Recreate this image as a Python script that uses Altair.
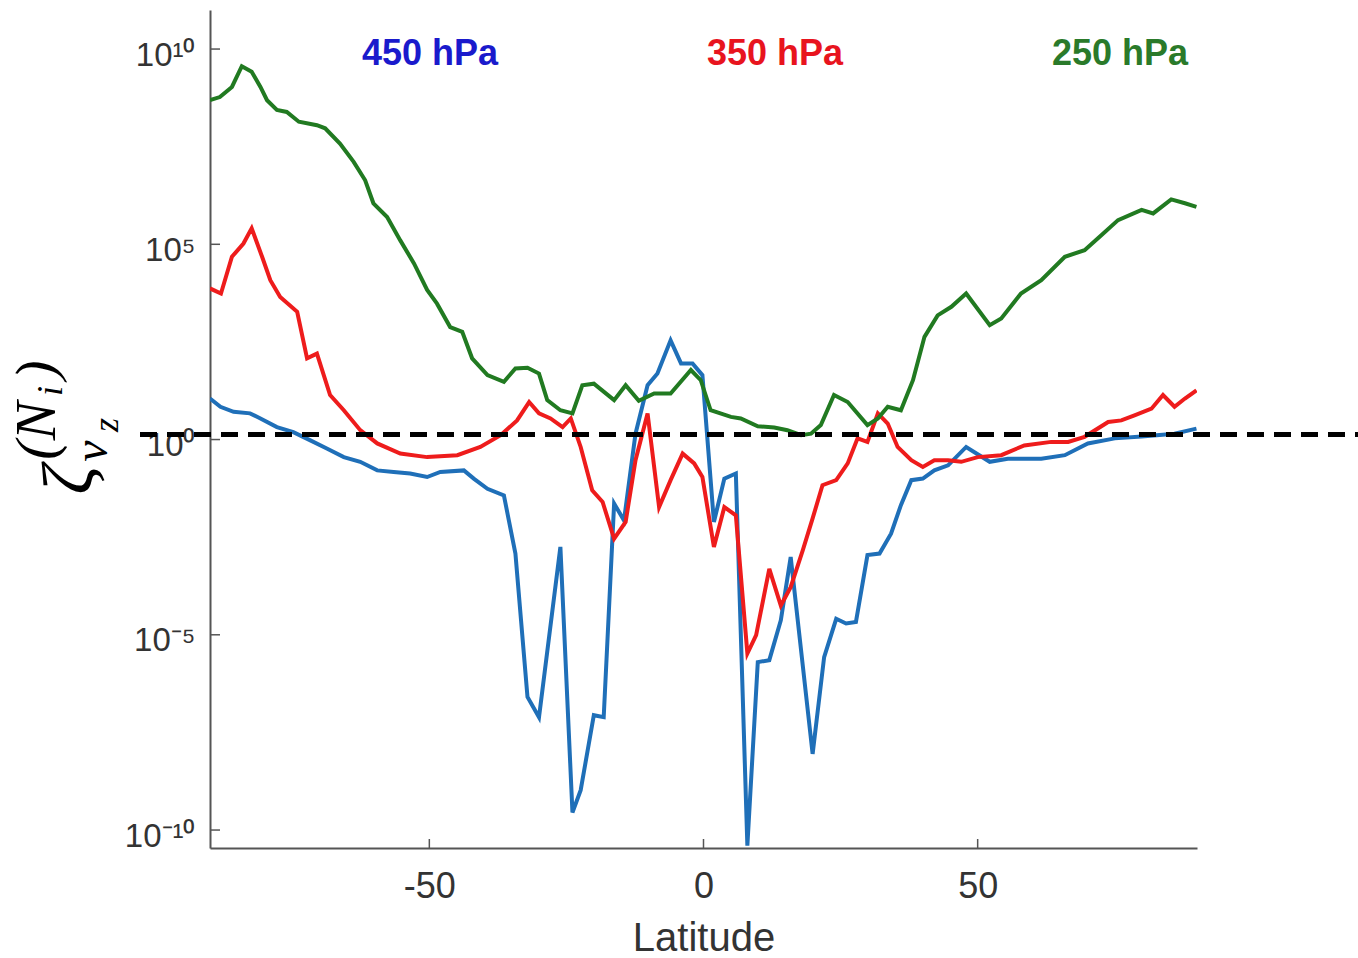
import altair as alt
import pandas as pd

# ---- data (latitude, log10 of zeta) ----
levels = ["450 hPa", "350 hPa", "250 hPa"]
line_colors = ["#1F6FB8", "#EE1C1C", "#217A21"]
label_colors = ["#1A1ACC", "#E8141E", "#2A7A2A"]

lat_450 = [-90.0, -88.1, -85.7, -82.7, -80.8, -77.8, -74.8, -71.7, -68.7, -65.6, -62.6, -59.5,
           -56.5, -53.5, -50.4, -48.0, -43.7, -41.9, -39.4, -36.4, -35.5, -34.3, -32.1, -30.0,
           -26.1, -23.9, -22.4, -20.0, -18.2, -16.3, -14.5, -12.4, -10.2, -8.4, -6.0, -4.1,
           -2.0, -0.2, 1.9, 3.8, 5.9, 8.0, 9.9, 12.0, 14.1, 15.9, 19.9, 22.0, 24.2, 26.0,
           27.8, 29.9, 32.1, 34.2, 36.0, 37.9, 40.0, 42.1, 44.6, 47.9, 52.2, 55.5, 61.6,
           65.9, 70.1, 75.0, 79.9, 85.9, 89.9]
exp_450 = [1.05, 0.84, 0.71, 0.67, 0.54, 0.32, 0.19, -0.02, -0.23, -0.45, -0.57, -0.79,
           -0.83, -0.87, -0.96, -0.83, -0.79, -1.00, -1.26, -1.43, -2.07, -2.92, -6.59, -7.11,
           -2.75, -9.55, -8.98, -7.06, -7.11, -1.64, -2.07, 0.15, 1.39, 1.69, 2.54, 1.95,
           1.95, 1.65, -2.11, -1.00, -0.87, -10.4, -5.70, -5.65, -4.63, -3.01, -8.05, -5.57, -4.59, -4.71,
           -4.67, -2.96, -2.92, -2.41, -1.68, -1.04, -1.00, -0.79, -0.66, -0.19, -0.57, -0.49, -0.49,
           -0.40, -0.10, 0.03, 0.08, 0.15, 0.28]

lat_350 = [-90.0, -88.0, -86.0, -83.9, -82.4, -80.5, -79.0, -77.2, -74.1, -72.3, -70.5, -68.1,
           -65.6, -62.6, -59.5, -55.3, -50.4, -44.9, -40.7, -37.0, -34.0, -31.8, -30.0, -27.9,
           -25.7, -24.2, -22.4, -20.3, -18.4, -16.3, -14.2, -12.4, -10.2, -8.1, -6.0, -3.8,
           -1.7, -0.2, 1.9, 3.8, 5.9, 8.0, 9.6, 12.0, 14.1, 15.9, 18.1, 19.9, 21.7, 24.2,
           26.3, 28.1, 29.9, 31.8, 33.6, 35.4, 37.9, 40.0, 42.1, 44.6, 47.0, 50.0, 54.3,
           58.5, 63.4, 66.5, 69.5, 73.8, 76.2, 78.6, 81.7, 83.8, 85.9, 87.8, 89.9]
exp_350 = [3.87, 3.74, 4.68, 5.02, 5.41, 4.68, 4.08, 3.65, 3.27, 2.08, 2.20, 1.14,
           0.75, 0.24, -0.10, -0.36, -0.45, -0.40, -0.19, 0.11, 0.49, 0.96, 0.67, 0.54,
           0.32, 0.54, -0.19, -1.30, -1.60, -2.54, -2.11, -0.53, 0.67, -1.73, -1.04, -0.36,
           -0.61, -0.96, -2.75, -1.73, -1.94, -5.48, -5.01, -3.31, -4.25, -3.78, -2.84, -2.02, -1.17, -1.04,
           -0.61, 0.03, -0.06, 0.67, 0.41, -0.19, -0.53, -0.70, -0.53, -0.53, -0.57, -0.45, -0.40,
           -0.15, -0.06, -0.06, 0.07, 0.45, 0.49, 0.62, 0.79, 1.14, 0.84, 1.05, 1.26]

lat_250 = [-90.0, -88.2, -86.0, -84.2, -82.4, -80.8, -79.6, -77.8, -76.0, -73.8, -70.5, -69.0,
           -66.3, -63.8, -61.7, -60.2, -57.7, -55.3, -52.8, -50.4, -48.6, -46.2, -44.0, -42.2,
           -39.4, -36.4, -34.3, -32.1, -30.0, -28.5, -26.1, -23.9, -22.1, -20.0, -16.3, -14.2,
           -11.8, -9.0, -6.0, -2.3, -0.5, 1.3, 5.0, 6.8, 9.9, 12.9, 15.3, 17.8, 19.6, 21.4,
           23.8, 26.3, 29.9, 31.8, 33.6, 36.0, 38.2, 40.3, 42.7, 45.2, 47.9, 52.2, 54.3,
           57.9, 61.6, 65.9, 69.5, 72.6, 75.6, 79.9, 82.0, 85.3, 87.8, 89.9]
exp_250 = [8.69, 8.77, 9.03, 9.56, 9.42, 9.03, 8.69, 8.44, 8.39, 8.14, 8.05, 7.97,
           7.58, 7.11, 6.64, 6.05, 5.70, 5.10, 4.51, 3.83, 3.48, 2.88, 2.76, 2.08,
           1.65, 1.48, 1.82, 1.84, 1.69, 1.01, 0.75, 0.67, 1.39, 1.43, 1.01, 1.39,
           0.99, 1.18, 1.18, 1.78, 1.52, 0.75, 0.58, 0.54, 0.34, 0.31, 0.24, 0.11, 0.15, 0.37,
           1.14, 0.96, 0.37, 0.54, 0.84, 0.75, 1.52, 2.63, 3.18, 3.40, 3.74, 2.93, 3.10,
           3.74, 4.08, 4.68, 4.85, 5.24, 5.62, 5.88, 5.79, 6.15, 6.05, 5.96]

x_ticks = [-50, 0, 50]
y_ticks = [-10, -5, 0, 5, 10]
threshold_exp = [0.13]

rows = []
for name, lats, exps in [(levels[0], lat_450, exp_450),
                         (levels[1], lat_350, exp_350),
                         (levels[2], lat_250, exp_250)]:
    for a, b in zip(lats, exps):
        rows.append({"level": name, "lat": a, "logz": b})
df = pd.DataFrame(rows)

W, H = 987, 838
AX = "#555555"
x_scale = alt.Scale(domain=[-90, 90], nice=False, zero=False)
y_scale = alt.Scale(domain=[-10.46, 11], nice=False, zero=False)

label_expr = ("datum.value == 10 ? '10\u00b9\u2070' : datum.value == 5 ? '10\u2075' : "
              "datum.value == 0 ? '10\u2070' : datum.value == -5 ? '10\u207b\u2075' : "
              "'10\u207b\u00b9\u2070'")

x_axis = alt.Axis(values=x_ticks, title="Latitude", labelFontSize=36, labelExpr="'' + datum.value",
                  labelPadding=21, titleFontSize=40, titlePadding=14)
y_axis = alt.Axis(values=y_ticks, title=None, labelExpr=label_expr,
                  labelFontSize=33, labelPadding=15, labelOffset=6)

lines = alt.Chart(df).mark_line(strokeWidth=4, clip=True).encode(
    x=alt.X("lat:Q", scale=x_scale, axis=x_axis, title="Latitude"),
    y=alt.Y("logz:Q", scale=y_scale, axis=y_axis, title=None),
    color=alt.Color("level:N", scale=alt.Scale(domain=levels, range=line_colors), legend=None),
)

ytick_marks = alt.Chart(pd.DataFrame({"logz": y_ticks})).mark_rule(color=AX, strokeWidth=1.5).encode(
    y=alt.Y("logz:Q", scale=y_scale, axis=y_axis, title=None), x=alt.value(0), x2=alt.value(10))
xtick_marks = alt.Chart(pd.DataFrame({"lat": x_ticks})).mark_rule(color=AX, strokeWidth=1.5).encode(
    x=alt.X("lat:Q", scale=x_scale, axis=x_axis, title="Latitude"), y=alt.value(H), y2=alt.value(H - 9))

dash = alt.Chart(pd.DataFrame({"logz": threshold_exp})).mark_rule(
    color="black", strokeWidth=5, strokeDash=[17, 10]).encode(
    y=alt.Y("logz:Q", scale=y_scale, axis=y_axis, title=None), x=alt.value(-70), x2=alt.value(1148))

label_x = [220, 565, 910]
label_layers = []
for name, col, px in zip(levels, label_colors, label_x):
    label_layers.append(
        alt.Chart(pd.DataFrame({"t": [name]})).mark_text(
            font="Liberation Sans", fontWeight="bold", fontSize=36, color=col,
            align="center", baseline="middle").encode(
            text="t:N", x=alt.value(px), y=alt.value(44)))

# y-axis title  zeta_{v_z}^{(N_i)}  (rotated, drawn piecewise)
title_parts = [("\u03b6", 72, -118, 470), ("v", 48, -103, 441), ("z", 36, -92, 415),
               ("(", 58, -155, 440), ("N", 58, -155, 411), ("i", 36, -148, 381), (")", 58, -155, 360)]
title_layers = []
for txt, fs, px, py in title_parts:
    title_layers.append(
        alt.Chart(pd.DataFrame({"t": [txt]})).mark_text(
            font="Liberation Serif", fontStyle="italic", fontSize=fs, color="black",
            angle=270, align="center", baseline="alphabetic").encode(
            text="t:N", x=alt.value(px), y=alt.value(py)))

chart = alt.layer(lines, ytick_marks, xtick_marks, dash, *label_layers, *title_layers).properties(
    width=W, height=H,
    padding={"left": 210, "top": 10, "right": 161, "bottom": 110},
    autosize=alt.AutoSizeParams(type="none"),
    background="white",
).configure_view(stroke=None).configure_axis(
    domainColor=AX, domainWidth=2, ticks=False, grid=False,
    labelColor="#333333", titleColor="#333333", labelFont="Liberation Sans",
    titleFont="Liberation Sans", titleFontWeight="normal",
)

chart.save("out.html", embed_options={"renderer": "svg", "actions": False})
